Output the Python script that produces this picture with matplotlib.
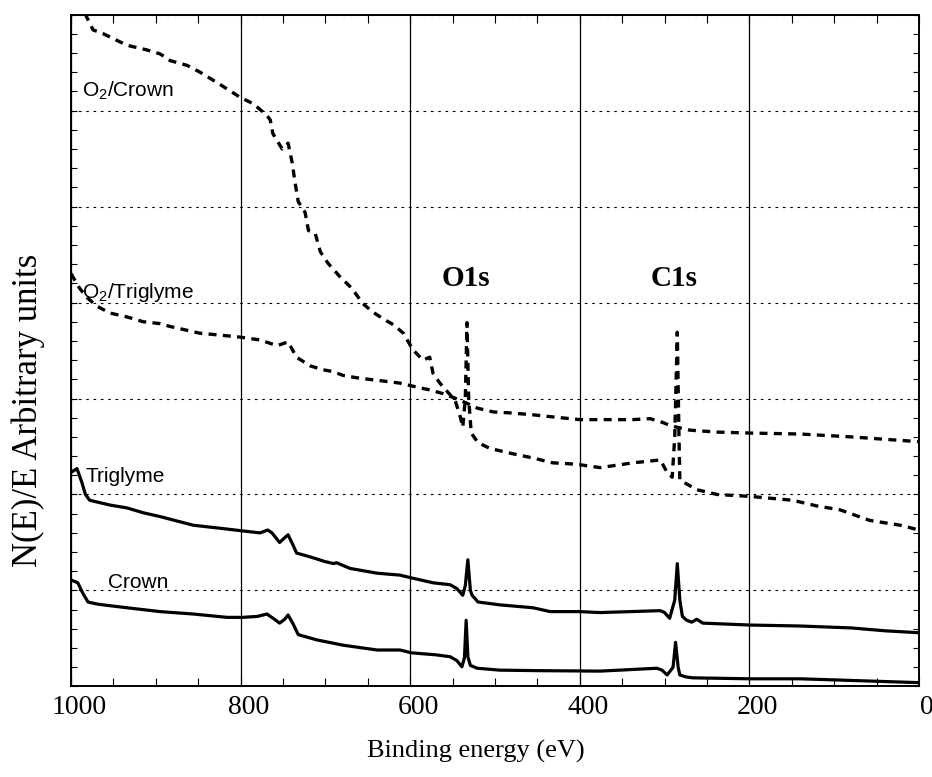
import numpy as np
import matplotlib
matplotlib.use('Agg')
import matplotlib.pyplot as plt
import matplotlib.transforms as mtransforms
from matplotlib.ticker import MultipleLocator

plt.rcParams.update({
    'font.family': 'Liberation Serif',
    'mathtext.default': 'regular',
    'xtick.direction': 'in',
    'ytick.direction': 'in',
    'xtick.top': True,
    'ytick.right': True,
})

# binding energy (eV) / intensity (arb. units)
crown_ev = [1000, 992, 986, 980, 970, 962, 934, 895, 856, 816, 798, 780, 769, 760, 754, 748, 744,
            738, 732, 720, 710, 679, 639, 612, 598, 570, 553, 545, 539, 536, 534, 532, 529, 521,
            494, 450, 376, 309, 303, 297, 290, 287, 284, 282, 275, 267, 199, 140, 70, 0]
crown_y = [1.11, 1.08, 0.97, 0.88, 0.86, 0.85, 0.82, 0.78, 0.755, 0.72, 0.72, 0.73, 0.755, 0.70,
           0.66, 0.70, 0.745, 0.65, 0.54, 0.51, 0.485, 0.43, 0.38, 0.38, 0.35, 0.33, 0.31, 0.27,
           0.205, 0.30, 0.69, 0.31, 0.22, 0.19, 0.17, 0.165, 0.16, 0.19, 0.17, 0.12, 0.20, 0.46,
           0.20, 0.12, 0.10, 0.09, 0.08, 0.08, 0.06, 0.04]

trig_ev = [1000, 993, 987, 983, 978, 954, 934, 915, 895, 856, 816, 797, 777, 768, 763, 754, 748,
           744, 738, 734, 718, 700, 690, 687, 671, 639, 612, 598, 573, 553, 545, 538, 535, 532,
           529, 527, 520, 494, 455, 435, 400, 376, 340, 305, 300, 294, 288, 285, 282, 279, 274,
           268, 262, 255, 199, 140, 80, 40, 0]
trig_y = [2.23, 2.27, 2.12, 2.0, 1.94, 1.89, 1.86, 1.81, 1.77, 1.68, 1.64, 1.62, 1.60, 1.63, 1.60,
          1.50, 1.55, 1.58, 1.47, 1.39, 1.35, 1.30, 1.28, 1.29, 1.23, 1.18, 1.16, 1.13, 1.08, 1.06,
          1.02, 0.95, 1.05, 1.32, 1.0, 0.95, 0.88, 0.85, 0.82, 0.78, 0.78, 0.77, 0.78, 0.79, 0.77,
          0.71, 0.90, 1.28, 0.90, 0.73, 0.69, 0.67, 0.70, 0.66, 0.64, 0.63, 0.61, 0.58, 0.56]

o2_trig_ev = [1000, 990, 981, 969, 954, 934, 915, 895, 883, 848, 824, 801, 777, 757, 744, 734,
              718, 703, 691, 679, 659, 639, 612, 588, 577, 561, 549, 533, 521, 502, 482, 455, 423,
              400, 376, 337, 317, 302, 294, 285, 270, 238, 199, 140, 80, 0]
o2_trig_y = [4.30, 4.15, 4.05, 3.96, 3.89, 3.85, 3.80, 3.78, 3.75, 3.68, 3.66, 3.64, 3.61, 3.55,
             3.59, 3.43, 3.34, 3.30, 3.28, 3.24, 3.21, 3.19, 3.16, 3.11, 3.09, 3.05, 3.01, 2.95,
             2.90, 2.86, 2.85, 2.83, 2.80, 2.78, 2.78, 2.78, 2.79, 2.75, 2.72, 2.70, 2.67, 2.65,
             2.64, 2.63, 2.60, 2.55]

o2_crown_ev = [990, 983, 974, 962, 934, 910, 895, 883, 863, 848, 824, 801, 785, 769, 765, 762,
               751, 744, 739, 736, 732, 724, 720, 712, 706, 697, 683, 669, 656, 644, 630, 620, 608,
               597, 585, 577, 573, 565, 547, 541, 538, 535, 533, 531, 528, 520, 506, 482, 455, 432,
               412, 400, 376, 337, 305, 297, 291, 288, 285, 283, 282, 276, 262, 238, 199, 149, 120,
               93, 58, 22, 0]
o2_crown_y = [7.15, 7.0, 6.84, 6.80, 6.68, 6.63, 6.59, 6.52, 6.47, 6.40, 6.27, 6.14, 6.07, 5.95,
              5.90, 5.76, 5.60, 5.66, 5.45, 5.26, 5.05, 4.94, 4.75, 4.72, 4.53, 4.41, 4.27, 4.15,
              3.99, 3.90, 3.82, 3.77, 3.68, 3.51, 3.40, 3.43, 3.26, 3.16, 2.98, 2.81, 2.70, 3.0,
              3.79, 3.0, 2.64, 2.54, 2.48, 2.43, 2.38, 2.33, 2.32, 2.31, 2.28, 2.33, 2.36, 2.23,
              2.18, 2.6, 3.69, 2.6, 2.15, 2.12, 2.05, 2.00, 1.98, 1.94, 1.88, 1.84, 1.73, 1.68, 1.63]

fig = plt.figure(figsize=(9.32, 7.77), dpi=100, facecolor='white')
ax = fig.add_axes([0.0762, 0.1165, 0.9098, 0.8648])

ax.set_xlim(1000, 0)
ax.set_ylim(0, 7)
ax.xaxis.set_major_locator(MultipleLocator(200))
ax.xaxis.set_minor_locator(MultipleLocator(50))
ax.yaxis.set_major_locator(MultipleLocator(1))
ax.yaxis.set_minor_locator(MultipleLocator(0.2))
ax.set_yticklabels([])
ax.tick_params(axis='x', which='major', length=7, width=0.8, labelsize=20, pad=6)
ax.tick_params(axis='x', which='minor', length=5.5, width=0.8)
ax.tick_params(axis='y', which='major', length=4, width=0.8)
ax.tick_params(axis='y', which='minor', length=4, width=0.8)
off = mtransforms.ScaledTranslation(8 / 100, 0, fig.dpi_scale_trans)
for lab in ax.get_xticklabels():
    lab.set_transform(lab.get_transform() + off)

ax.grid(axis='x', which='major', color='black', linewidth=0.9, linestyle='-', zorder=1)
ax.grid(axis='y', which='major', color='black', linewidth=0.8, linestyle=(0, (2.4, 4.2)), zorder=1)
for sp in ax.spines.values():
    sp.set_linewidth(1.4)

dash = (0, (2.4, 1.9))
ax.plot(crown_ev, crown_y, color='black', linewidth=2.3, zorder=3)
ax.plot(trig_ev, trig_y, color='black', linewidth=2.3, zorder=3)
ax.plot(o2_trig_ev, o2_trig_y, color='black', linewidth=2.4, linestyle=dash, zorder=3)
ax.plot(o2_crown_ev, o2_crown_y, color='black', linewidth=2.4, linestyle=dash, zorder=3)

lab_kw = dict(family='Liberation Sans', fontsize=15, va='baseline', ha='left', zorder=4)
ax.text(987, 6.14, 'O$_2$/Crown', **lab_kw)
ax.text(987, 4.05, 'O$_2$/Triglyme', **lab_kw)
ax.text(983.5, 2.13, 'Triglyme', **lab_kw)
ax.text(956, 1.03, 'Crown', **lab_kw)

ax.text(534, 4.25, 'O1s', fontsize=21, fontweight='bold', ha='center', va='center')
ax.text(289, 4.25, 'C1s', fontsize=21, fontweight='bold', ha='center', va='center')

ax.set_xlabel('Binding energy (eV)', fontsize=19)
ax.xaxis.set_label_coords(0.477, -0.08)
ax.xaxis.label.set_va('top')
ax.set_ylabel('N(E)/E Arbitrary units', fontsize=25)
ax.yaxis.set_label_coords(-0.031, 0.411)

fig.savefig('out.png', dpi=100, facecolor='white')
